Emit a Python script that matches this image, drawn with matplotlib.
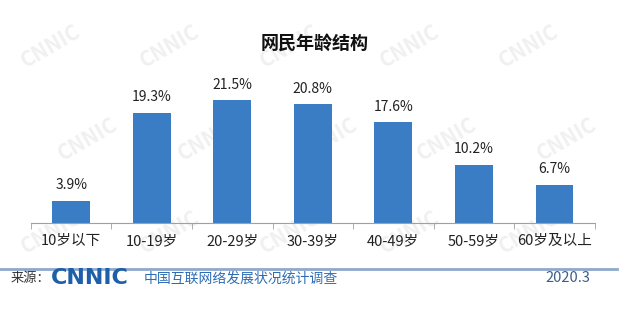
import numpy as np
import matplotlib
matplotlib.use('Agg')
import matplotlib.pyplot as plt

plt.rcParams['font.family'] = ['Noto Sans CJK SC', 'DejaVu Sans']

# data
age_groups = ['10岁以下', '10-19岁', '20-29岁', '30-39岁', '40-49岁', '50-59岁', '60岁及以上']
share = [3.9, 19.3, 21.5, 20.8, 17.6, 10.2, 6.7]
title = '网民年龄结构'
source_label = '来源：'
source_name = '中国互联网络发展状况统计调查'
date_label = '2020.3'

bar_color = '#3B7DC4'

fig = plt.figure(figsize=(6.3, 3.1), dpi=100)
fig.patch.set_facecolor('white')

# faint CNNIC watermark behind everything
for row in range(3):
    for col in range(5):
        wx = 0.08 + col * 0.19 + (row % 2) * 0.06
        wy = 0.85 - row * 0.3
        fig.text(wx, wy, 'CNNIC', fontsize=15, fontweight='bold', color='#f0f0f0',
                 rotation=30, ha='center', va='center', zorder=-5)

ax = fig.add_axes([0.049, 0.281, 0.895, 0.525])
ax.patch.set_alpha(0)
x = np.arange(len(share))
bars = ax.bar(x, share, width=0.47, color=bar_color, zorder=2)
for b, v in zip(bars, share):
    ax.text(b.get_x() + b.get_width() / 2, v + 1.5, f'{v}%', ha='center', va='bottom',
            fontsize=10, color='#222222')

ax.set_xlim(-0.5, len(share) - 0.5)
ax.set_ylim(0, 28.5)
ax.set_xticks(x)
ax.set_xticklabels(age_groups, fontsize=10.5, color='#222222')
ax.set_xticks(np.arange(-0.5, len(share), 1), minor=True)
ax.tick_params(axis='x', which='major', length=0, pad=8)
ax.tick_params(axis='x', which='minor', length=4, color='#a0a0a0', direction='out')
ax.set_yticks([])
for s in ['left', 'right', 'top']:
    ax.spines[s].set_visible(False)
ax.spines['bottom'].set_color('#a0a0a0')

fig.text(0.5, 0.862, title, ha='center', va='center', fontsize=13, fontweight='bold',
         color='#111111')

# footer
fig.add_artist(plt.Line2D([0.0, 0.98], [0.132, 0.132], color='#8EA9CC', linewidth=2))
fig.text(0.016, 0.102, source_label, ha='left', va='center', fontsize=9.5, color='#333333')
fig.text(0.08, 0.102, 'CNNIC', ha='left', va='center', fontsize=16, fontweight='heavy',
         color='#1D5FA8', family='DejaVu Sans')
fig.text(0.228, 0.102, source_name, ha='left', va='center', fontsize=10, color='#2E6DB4')
fig.text(0.937, 0.102, date_label, ha='right', va='center', fontsize=10.5, color='#3A5F8A')

fig.savefig('out.png', dpi=100, facecolor='white')
